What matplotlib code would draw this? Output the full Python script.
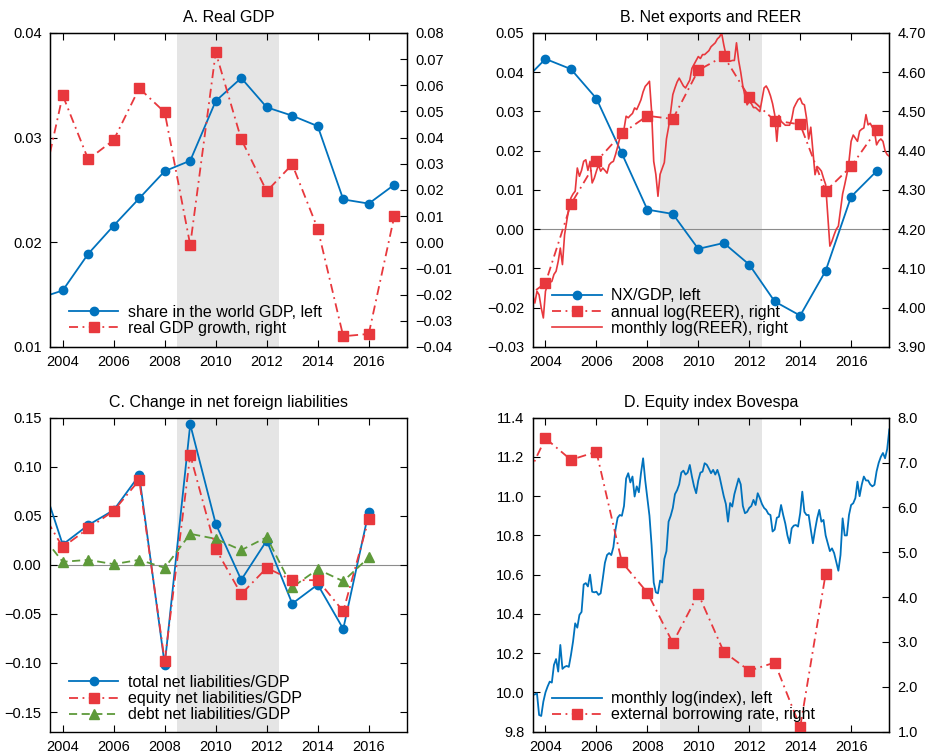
import matplotlib.pyplot as plt
import numpy as np

plt.rcParams['font.family'] = ['Liberation Sans', 'DejaVu Sans']
plt.rcParams['axes.unicode_minus'] = True

BLUE = '#0072BD'
RED = '#E8383D'
GREEN = '#5E9A3A'
SHADE = '#E5E5E5'
DASHDOT = (0, (5, 2.5, 1, 2.5))
DASHED = (0, (4.5, 2.5))

# annual series (2003 is only partly visible at the left edge)
years = np.arange(2003, 2018)
gdp_share = [0.0146, 0.0154, 0.0189, 0.0216, 0.0242, 0.0268, 0.0278, 0.0335,
             0.0357, 0.0329, 0.0321, 0.0311, 0.0241, 0.0237, 0.0255]
gdp_growth = [0.0120, 0.0562, 0.0317, 0.0391, 0.0589, 0.0497, -0.0010, 0.0726,
              0.0394, 0.0195, 0.0298, 0.0052, -0.0359, -0.0350, 0.0099]

nx_gdp = [0.0368, 0.0434, 0.0408, 0.0333, 0.0193, 0.0050, 0.0039, -0.0050,
          -0.0035, -0.0090, -0.0184, -0.0220, -0.0106, 0.0083, 0.0148]
reer_annual = [4.015, 4.063, 4.264, 4.373, 4.444, 4.489, 4.481, 4.605,
               4.641, 4.536, 4.477, 4.467, 4.297, 4.360, 4.452]

years_c = np.arange(2003, 2017)
total_liab = [0.100, 0.0207, 0.0405, 0.0558, 0.0912, -0.1017, 0.1432, 0.0418,
              -0.0153, 0.0248, -0.0395, -0.0201, -0.0653, 0.0541]
equity_liab = [0.062, 0.0180, 0.0371, 0.0551, 0.0864, -0.0983, 0.1119, 0.0163,
               -0.0299, -0.0031, -0.0156, -0.0156, -0.0473, 0.0469]
debt_liab = [0.036, 0.0031, 0.0051, 0.0007, 0.0051, -0.0030, 0.0316, 0.0265,
             0.0150, 0.0282, -0.0228, -0.0045, -0.0167, 0.0075]

years_d = np.arange(2003, 2016)
borrow_rate = [6.35, 7.54, 7.06, 7.24, 4.78, 4.10, 2.98, 4.07, 2.78, 2.36,
               2.54, 1.10, 4.52]

# monthly series, July 2003 to July 2017
reer_monthly = [
    4.033, 4.012, 4.042, 4.033, 4.000, 3.974,
    4.042, 4.059, 4.065, 4.067, 4.085, 4.093, 4.118, 4.152, 4.110, 4.186, 4.220, 4.254,
    4.280, 4.290, 4.297, 4.356, 4.335, 4.350, 4.373, 4.377, 4.350, 4.373, 4.318, 4.330,
    4.348, 4.364, 4.348, 4.356, 4.350, 4.343, 4.364, 4.370, 4.373, 4.390, 4.410, 4.432,
    4.440, 4.455, 4.488, 4.484, 4.490, 4.495, 4.509, 4.505, 4.517, 4.530, 4.550, 4.564,
    4.570, 4.577, 4.500, 4.373, 4.340, 4.284, 4.340, 4.355, 4.370, 4.430, 4.460, 4.500,
    4.543, 4.560, 4.575, 4.585, 4.575, 4.565, 4.560, 4.570, 4.580, 4.610, 4.620, 4.630,
    4.640, 4.635, 4.645, 4.645, 4.650, 4.655, 4.665, 4.670, 4.675, 4.685, 4.690, 4.700,
    4.670, 4.645, 4.635, 4.628, 4.630, 4.630, 4.675, 4.630, 4.600, 4.564, 4.540, 4.517,
    4.525, 4.520, 4.510, 4.510, 4.505, 4.500, 4.530, 4.560, 4.565, 4.555, 4.540, 4.520,
    4.492, 4.424, 4.490, 4.475, 4.470, 4.465, 4.465, 4.465, 4.480, 4.509, 4.520, 4.530,
    4.534, 4.520, 4.517, 4.483, 4.430, 4.460, 4.400, 4.339, 4.360, 4.355, 4.348, 4.330,
    4.314, 4.237, 4.157, 4.170, 4.186, 4.200, 4.208, 4.250, 4.290, 4.314, 4.340, 4.373,
    4.424, 4.440, 4.432, 4.424, 4.450, 4.455, 4.458, 4.492, 4.466, 4.470, 4.460, 4.450,
    4.415, 4.425, 4.430, 4.424, 4.400, 4.390, 4.386,
]
bovespa_monthly = [
    9.987, 9.990, 9.995, 9.885, 9.880, 9.953,
    10.000, 10.030, 10.055, 10.050, 10.140, 10.170, 10.106, 10.242, 10.120, 10.130, 10.135, 10.130,
    10.190, 10.260, 10.352, 10.330, 10.395, 10.410, 10.550, 10.557, 10.540, 10.600, 10.513, 10.510,
    10.513, 10.497, 10.505, 10.580, 10.660, 10.700, 10.710, 10.700, 10.740, 10.830, 10.890, 10.904,
    10.900, 10.950, 11.090, 11.117, 11.070, 11.100, 10.998, 11.050, 11.020, 11.117, 11.193, 11.080,
    10.990, 10.900, 10.750, 10.560, 10.510, 10.505, 10.570, 10.560, 10.680, 10.720, 10.870, 10.900,
    10.940, 11.010, 11.030, 11.060, 11.120, 11.130, 11.110, 11.120, 11.159, 11.100, 11.050, 11.015,
    11.080, 11.120, 11.125, 11.168, 11.160, 11.140, 11.117, 11.134, 11.110, 11.134, 11.100, 11.050,
    11.000, 10.960, 10.870, 10.965, 10.947, 11.010, 11.050, 11.090, 11.060, 10.950, 10.913, 10.920,
    10.940, 10.950, 10.981, 10.955, 11.015, 10.990, 10.960, 10.940, 10.930, 10.910, 10.904, 10.820,
    10.830, 10.890, 10.895, 10.955, 10.904, 10.860, 10.800, 10.760, 10.836, 10.850, 10.853, 10.845,
    10.913, 11.023, 10.920, 10.904, 10.904, 10.830, 10.760, 10.828, 10.887, 10.930, 10.870, 10.879,
    10.800, 10.760, 10.720, 10.734, 10.710, 10.666, 10.620, 10.700, 10.887, 10.800, 10.800, 10.904,
    10.955, 10.964, 10.990, 11.074, 11.000, 11.058, 11.100, 11.080, 11.080, 11.060, 11.050, 11.058,
    11.126, 11.170, 11.200, 11.220, 11.193, 11.240, 11.340,
]
months = 2003.5 + np.arange(len(reer_monthly)) / 12.0

xticks = np.arange(2004, 2017, 2)
recession = (2008.5, 2012.5)


def fmt(v, d):
    s = f"{v:.{d}f}"
    if float(s) == 0:
        s = f"{0:.{d}f}"
    return s.replace('-', '\u2212')


def set_yaxis(ax, ticks, d):
    ax.set_ylim(ticks[0], ticks[-1])
    ax.set_yticks(ticks)
    ax.set_yticklabels([fmt(t, d) for t in ticks])


def base_axes(rect, title):
    ax = fig.add_axes(rect)
    ax.set_xlim(2003.5, 2017.5)
    ax.set_xticks(xticks)
    ax.set_xticklabels([str(y) for y in xticks])
    ax.axvspan(*recession, color=SHADE, lw=0, zorder=0)
    ax.tick_params(direction='in', length=5, width=0.8, labelsize=10.5,
                   top=True, pad=6)
    ax.tick_params(axis='x', pad=6)
    for sp in ax.spines.values():
        sp.set_linewidth(1.0)
    ax.set_title(title, fontsize=11.5, pad=8)
    return ax


def twin(ax):
    ax2 = ax.twinx()
    ax2.tick_params(direction='in', length=5, width=0.8, labelsize=10.5, pad=6)
    return ax2


def add_legend(ax, handles, x, y):
    ax.legend(handles=handles, loc='lower left', bbox_to_anchor=(x, y),
              frameon=False, fontsize=11.5, borderpad=0, borderaxespad=0,
              handlelength=3.1, handletextpad=0.6, labelspacing=0.07,
              numpoints=1)


fig = plt.figure(figsize=(9.32, 7.55), dpi=100)

# A. Real GDP
ax = base_axes([0.0536, 0.5404, 0.3831, 0.4159], 'A. Real GDP')
set_yaxis(ax, [0.01, 0.02, 0.03, 0.04], 2)
h1, = ax.plot(years, gdp_share, color=BLUE, lw=1.3, marker='o', ms=6,
              label='share in the world GDP, left')
ax2 = twin(ax)
set_yaxis(ax2, np.round(np.arange(-0.04, 0.081, 0.01), 2), 2)
h2, = ax2.plot(years, gdp_growth, color=RED, lw=1.3, ls=DASHDOT, marker='s',
               ms=7, label='real GDP growth, right')
add_legend(ax2, [h1, h2], 0.053, 0.036)

# B. Net exports and REER
ax = base_axes([0.5716, 0.5404, 0.3826, 0.4159], 'B. Net exports and REER')
set_yaxis(ax, np.round(np.arange(-0.03, 0.051, 0.01), 2), 2)
ax.axhline(0, color='#8C8C8C', lw=0.8, zorder=1)
h1, = ax.plot(years, nx_gdp, color=BLUE, lw=1.3, marker='o', ms=6,
              label='NX/GDP, left')
ax2 = twin(ax)
set_yaxis(ax2, np.round(np.arange(3.9, 4.71, 0.1), 2), 2)
h3, = ax2.plot(months, reer_monthly, color=RED, lw=1.2,
               label='monthly log(REER), right')
h2, = ax2.plot(years, reer_annual, color=RED, lw=1.3, ls=DASHDOT, marker='s',
               ms=7, label='annual log(REER), right')
add_legend(ax2, [h1, h2, h3], 0.054, 0.036)

# C. Change in net foreign liabilities
ax = base_axes([0.0536, 0.0309, 0.3831, 0.4159],
               'C. Change in net foreign liabilities')
ax.set_ylim(-0.17, 0.15)
ticks = np.round(np.arange(-0.15, 0.151, 0.05), 2)
ax.set_yticks(ticks)
ax.set_yticklabels([fmt(t, 2) for t in ticks])
ax.tick_params(axis='y', right=True)
ax.axhline(0, color='#8C8C8C', lw=0.8, zorder=1)
h1, = ax.plot(years_c, total_liab, color=BLUE, lw=1.3, marker='o', ms=6,
              label='total net liabilities/GDP')
h3, = ax.plot(years_c, debt_liab, color=GREEN, lw=1.3, ls=DASHED, marker='^',
              ms=6.5, label='debt net liabilities/GDP')
h2, = ax.plot(years_c, equity_liab, color=RED, lw=1.3, ls=DASHDOT, marker='s',
              ms=7, label='equity net liabilities/GDP')
add_legend(ax, [h1, h2, h3], 0.053, 0.03)

# D. Equity index Bovespa
ax = base_axes([0.5716, 0.0309, 0.3826, 0.4159], 'D. Equity index Bovespa')
set_yaxis(ax, np.round(np.arange(9.8, 11.41, 0.2), 1), 1)
h1, = ax.plot(months, bovespa_monthly, color=BLUE, lw=1.3,
              label='monthly log(index), left')
ax2 = twin(ax)
set_yaxis(ax2, np.arange(1.0, 8.01, 1.0), 1)
h2, = ax2.plot(years_d, borrow_rate, color=RED, lw=1.3, ls=DASHDOT, marker='s',
               ms=7, label='external borrowing rate, right')
add_legend(ax2, [h1, h2], 0.054, 0.03)

fig.savefig('out.png', dpi=100)
